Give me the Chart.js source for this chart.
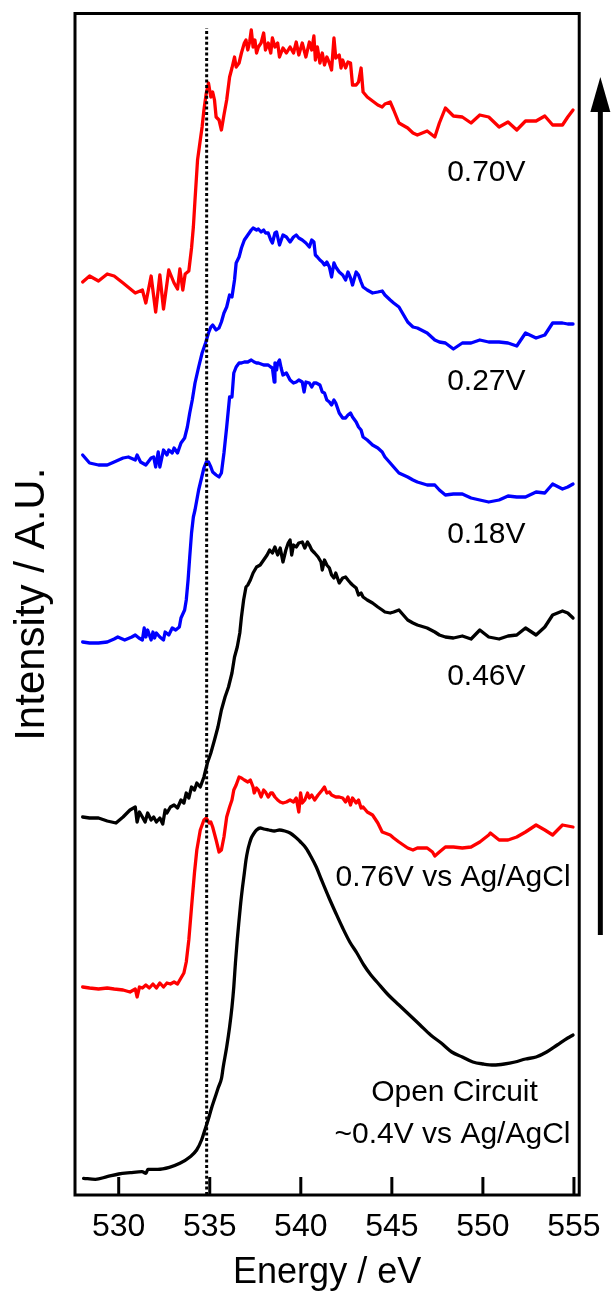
<!DOCTYPE html>
<html><head><meta charset="utf-8">
<script src="https://cdn.jsdelivr.net/npm/chart.js@4.4.1/dist/chart.umd.min.js"></script>
<style>html,body{margin:0;padding:0;background:#fff}</style>
</head><body>
<canvas id="c" width="614" height="1295"></canvas>
<script>
// ---- tick labels ----
const xTicks = [530, 535, 540, 545, 550, 555];

// ---- 0.70V (red, top) ----
const e070 = [528.02,528.40,528.89,529.37,529.75,530.24,530.91,531.30,531.49,531.78,
532.03,532.26,532.46,532.75,533.04,533.23,533.36,533.52,533.65,533.85,
534.00,534.10,534.19,534.33,534.48,534.58,534.68,534.81,534.93,535.06,
535.16,535.26,535.35,535.51,535.64,535.78,535.93,536.09,536.22,536.36,
536.45,536.61,536.74,536.90,536.99,537.09,537.19,537.28,537.38,537.48,
537.57,537.67,537.82,537.96,538.06,538.21,538.35,538.44,538.58,538.73,
538.83,539.02,539.21,539.41,539.60,539.75,539.89,540.08,540.28,540.47,
540.60,540.72,540.80,540.91,541.05,541.18,541.30,541.43,541.57,541.69,
541.82,541.92,542.11,542.21,542.30,542.46,542.59,542.73,542.84,543.04,
543.17,543.31,543.42,543.65,543.94,544.23,544.47,544.62,544.91,545.10,
545.39,545.87,546.16,546.40,546.94,547.36,547.61,547.94,548.38,548.87,
549.35,549.83,550.32,550.89,551.38,551.86,552.34,552.92,553.40,553.83,
554.37,554.66,554.95];
const i070 = [913,919,914,921,919,912,902,905,892,919,
883,920,886,925,912,906,926,905,921,924,
947,968,995,1035,1055,1068,1085,1102,1112,1098,
1103,1095,1078,1075,1065,1080,1095,1118,1127,1138,
1128,1132,1142,1152,1155,1145,1153,1165,1148,1155,
1142,1148,1152,1162,1145,1152,1142,1157,1148,1152,
1138,1147,1142,1148,1142,1153,1140,1152,1138,1153,
1145,1159,1135,1148,1132,1142,1130,1138,1132,1125,
1157,1137,1140,1127,1135,1127,1133,1132,1110,1110,
1113,1127,1103,1098,1094,1090,1088,1091,1093,1085,
1072,1067,1062,1060,1064,1058,1072,1087,1079,1078,
1072,1080,1078,1068,1073,1065,1074,1074,1079,1070,
1070,1078,1085];

// ---- 0.27V (blue, upper) ----
const e027 = [528.02,528.40,528.89,529.37,529.75,530.24,530.53,530.91,531.01,531.20,
531.49,531.78,531.92,532.03,532.17,532.26,532.46,532.65,532.75,532.94,
533.04,533.23,533.42,533.62,533.77,533.90,534.04,534.19,534.39,534.58,
534.77,534.93,535.06,535.16,535.35,535.51,535.64,535.78,535.93,536.09,
536.22,536.36,536.45,536.61,536.74,536.90,537.09,537.28,537.38,537.57,
537.67,537.82,537.96,538.06,538.21,538.35,538.44,538.58,538.67,538.83,
539.02,539.21,539.41,539.60,539.75,539.89,540.08,540.28,540.47,540.60,
540.72,540.80,540.91,541.05,541.18,541.30,541.43,541.57,541.69,541.82,
541.92,542.11,542.30,542.46,542.59,542.73,542.84,543.04,543.17,543.31,
543.42,543.65,543.94,544.23,544.47,544.62,544.91,545.10,545.39,545.87,
546.16,546.40,546.94,547.36,547.61,547.94,548.38,548.87,549.35,549.83,
550.32,550.89,551.38,551.86,552.34,552.92,553.40,553.83,554.37,554.66,
554.95];
const i027 = [740,732,730,730,733,737,738,735,740,733,
730,737,738,728,743,728,745,740,745,742,
747,742,752,757,768,782,795,812,828,842,
852,862,868,870,865,867,873,882,888,900,
898,915,932,938,947,955,960,965,967,965,
966,963,965,962,962,955,952,962,963,950,
960,958,953,958,960,957,955,952,948,955,
953,940,938,935,933,930,933,928,918,932,
928,923,920,915,923,917,910,923,920,913,
908,905,902,903,904,900,895,892,888,873,
868,867,862,855,853,852,846,852,852,855,
853,853,852,849,862,857,860,872,872,871,
871];

// ---- 0.18V (blue, lower) ----
const e018 = [528.02,528.40,528.89,529.37,529.75,529.95,530.33,530.72,530.91,531.11,
531.30,531.40,531.49,531.59,531.78,531.88,531.97,532.07,532.26,532.46,
532.55,532.75,532.94,533.13,533.33,533.42,533.62,533.71,533.81,533.90,
534.00,534.10,534.19,534.39,534.68,534.81,534.93,535.06,535.16,535.35,
535.51,535.64,535.78,535.93,536.09,536.22,536.32,536.45,536.61,536.74,
536.90,537.09,537.28,537.44,537.57,537.67,537.82,537.96,538.06,538.21,
538.35,538.44,538.54,538.58,538.67,538.73,538.83,538.92,539.02,539.21,
539.41,539.60,539.75,539.89,540.08,540.18,540.28,540.47,540.60,540.72,
540.85,541.05,541.18,541.30,541.43,541.57,541.69,541.82,541.92,542.11,
542.30,542.46,542.59,542.73,542.84,543.04,543.17,543.31,543.42,543.65,
543.94,544.23,544.47,544.62,544.91,545.10,545.39,545.87,546.16,546.40,
546.94,547.36,547.61,547.94,548.38,548.87,549.35,549.83,550.32,550.89,
551.38,551.86,552.34,552.92,553.40,553.83,554.37,554.66,554.95];
const i018 = [553,552,552,553,556,558,555,558,560,557,
555,567,558,565,555,563,557,562,558,555,
563,560,567,565,568,577,585,595,615,638,
662,678,685,705,727,733,733,728,723,720,
718,722,742,768,798,798,822,828,832,832,
833,833,835,833,832,832,831,830,830,830,
828,827,813,832,825,832,835,827,820,822,
815,812,813,815,813,803,813,812,808,812,
812,810,803,802,795,793,790,795,792,782,
777,777,780,782,778,773,768,765,758,755,
750,747,743,738,732,728,722,718,715,713,
710,710,705,700,701,701,697,695,693,695,
699,698,698,703,702,711,706,708,711];

// ---- 0.46V (black, middle) ----
const e046 = [528.02,528.40,528.89,529.37,529.85,530.24,530.62,530.91,531.01,531.14,
531.30,531.45,531.59,531.78,531.92,532.07,532.26,532.42,532.55,532.65,
532.84,533.04,533.23,533.42,533.58,533.71,533.85,534.00,534.16,534.29,
534.48,534.68,534.87,535.06,535.26,535.45,535.64,535.84,536.03,536.22,
536.36,536.51,536.65,536.74,536.86,536.99,537.09,537.23,537.38,537.57,
537.77,537.96,538.15,538.29,538.44,538.58,538.73,538.87,539.02,539.18,
539.31,539.41,539.50,539.60,539.75,539.89,540.08,540.22,540.37,540.47,
540.60,540.76,540.95,541.11,541.18,541.30,541.43,541.57,541.69,541.82,
541.92,542.11,542.30,542.46,542.59,542.73,542.84,543.04,543.17,543.31,
543.42,543.65,543.94,544.23,544.47,544.62,544.91,545.10,545.39,545.87,
546.16,546.40,546.94,547.36,547.61,547.94,548.38,548.87,549.35,549.83,
550.32,550.89,551.38,551.86,552.34,552.92,553.40,553.83,554.37,554.66,
554.95];
const i046 = [378,377,377,374,372,378,385,388,373,383,
378,373,382,375,378,373,377,371,385,382,
388,390,387,395,392,402,397,408,405,412,
408,418,432,442,455,468,485,498,508,522,
538,548,562,578,595,608,610,615,622,628,
630,635,640,645,642,648,640,647,633,645,
652,655,640,650,648,652,653,647,653,650,
645,642,638,633,625,635,630,627,620,617,
622,612,617,618,615,612,610,607,600,602,
598,595,592,588,585,583,582,583,585,575,
572,570,567,563,560,558,557,559,556,565,
558,556,559,560,567,560,568,580,584,582,
577];

// ---- 0.76V vs Ag/AgCl (red, lower) ----
const e076 = [528.02,528.40,528.89,529.37,529.75,530.24,530.62,530.91,531.01,531.14,
531.30,531.49,531.68,531.88,532.07,532.26,532.46,532.65,532.84,533.04,
533.23,533.42,533.58,533.71,533.85,534.00,534.16,534.29,534.48,534.68,
534.81,534.97,535.06,535.16,535.35,535.51,535.64,535.78,535.93,536.09,
536.22,536.32,536.45,536.61,536.74,536.90,537.09,537.23,537.38,537.44,
537.57,537.67,537.82,537.96,538.06,538.21,538.35,538.44,538.58,538.73,
538.87,539.02,539.21,539.41,539.60,539.75,539.89,539.99,540.08,540.22,
540.37,540.47,540.60,540.76,540.95,541.18,541.30,541.43,541.57,541.69,
541.92,542.11,542.30,542.46,542.59,542.73,542.84,543.04,543.17,543.31,
543.42,543.65,543.94,544.23,544.47,544.62,544.91,545.10,545.39,545.87,
546.16,546.40,546.94,547.23,547.36,547.61,547.94,548.38,548.87,549.35,
549.83,550.32,550.41,550.89,551.38,551.86,552.34,552.92,553.40,553.83,
554.37,554.66,554.95];
const i076 = [208,207,206,207,206,205,203,206,198,208,
207,210,207,211,207,212,208,212,211,213,
211,217,222,233,255,288,322,345,365,375,
377,372,373,368,355,343,345,358,378,388,
395,405,410,418,417,415,413,415,408,402,
407,405,398,405,403,398,402,402,398,395,
393,392,393,395,393,397,383,402,392,395,
402,397,400,395,400,405,408,402,403,400,
398,398,397,393,398,390,397,392,395,387,
388,383,380,372,363,362,360,357,353,347,
345,347,347,343,339,343,348,348,347,348,
353,360,362,355,355,358,363,370,365,360,
370,369,368];

// ---- Open Circuit ~0.4V vs Ag/AgCl (black, bottom) ----
const eOC = [528.07,528.72,529.36,530.00,530.64,531.28,531.50,531.60,532.14,532.78,
533.36,533.91,534.28,534.55,534.73,534.91,535.10,535.28,535.46,535.65,
535.74,535.93,536.09,536.22,536.32,536.41,536.51,536.61,536.70,536.80,
536.90,536.99,537.09,537.19,537.28,537.44,537.57,537.77,537.96,538.25,
538.54,538.83,539.12,539.41,539.70,539.99,540.28,540.57,540.85,541.14,
541.53,541.92,542.30,542.69,543.08,543.46,543.85,544.23,544.81,545.39,
545.97,546.55,547.13,547.71,548.29,548.87,549.45,550.03,550.60,551.18,
551.76,552.34,552.92,553.50,554.08,554.66,554.95];
const iOC = [16.7,15.7,18.3,21,22.3,23.3,21.7,25.7,25.7,27.7,
31.7,38,45,55,65,75,87,97,107,117,
128,148,168,188,208,232,255,275,292,308,
322,335,345,352,357,362,365,367,366,365,
364,365,364,362,358,353,347,338,328,315,
298,282,267,253,242,230,220,212,200,190,
180,170,160,152,143,138,133,131,130,131,
133,136,138,143,150,157,160];

// ---- dotted reference line at the edge ----
const eEdge = [534.83, 534.83];
const iEdge = [0, 1167];

// ---- curve labels ----
const curveLabels = ['0.70V', '0.27V', '0.18V', '0.46V', '0.76V vs Ag/AgCl', 'Open Circuit', '~0.4V vs Ag/AgCl'];

const FONT = '"Liberation Sans", Arial, Helvetica, sans-serif';
const pts = (e, v) => e.map((x, k) => ({x: x, y: v[k]}));
const line = (e, v, color, extra) => Object.assign({
  data: pts(e, v), showLine: true, borderColor: color, backgroundColor: color,
  borderWidth: 3.3, pointRadius: 0, fill: false, tension: 0,
  borderJoinStyle: 'round', borderCapStyle: 'round'
}, extra || {});

const deco = {
  id: 'deco',
  afterDraw(chart, args, opts) {
    const {ctx, chartArea: a, scales: {x, y}} = chart;
    ctx.save();
    ctx.strokeStyle = '#000';
    ctx.lineWidth = 3;
    ctx.strokeRect(a.left, a.top, a.right - a.left, a.bottom - a.top);
    // inward tick marks
    xTicks.forEach(v => {
      const px = x.getPixelForValue(v);
      ctx.beginPath(); ctx.moveTo(px, a.bottom); ctx.lineTo(px, a.bottom - 18); ctx.stroke();
    });
    // curve labels
    ctx.fillStyle = '#000';
    ctx.font = '30px ' + FONT;
    ctx.textAlign = 'center';
    ctx.textBaseline = 'middle';
    curveLabels.forEach((t, k) => {
      const p = opts.labelPos[k];
      ctx.fillText(t, x.getPixelForValue(p[0]), y.getPixelForValue(p[1]));
    });
    // arrow
    const ar = opts.arrow;
    const ax = x.getPixelForValue(ar.e);
    const yTip = y.getPixelForValue(ar.tip), yBase = y.getPixelForValue(ar.base), yEnd = y.getPixelForValue(ar.end);
    ctx.lineWidth = 5; ctx.lineCap = 'butt';
    ctx.beginPath(); ctx.moveTo(ax, yEnd); ctx.lineTo(ax, yBase); ctx.stroke();
    ctx.beginPath(); ctx.moveTo(ax, yTip); ctx.lineTo(ax - 10, yBase); ctx.lineTo(ax + 10, yBase); ctx.closePath(); ctx.fill();
    ctx.restore();
  }
};

new Chart(document.getElementById('c'), {
  type: 'scatter',
  data: {
    datasets: [
      line(eEdge, iEdge, '#000', {borderWidth: 3, borderDash: [3, 2.4], borderCapStyle: 'butt'}),
      line(e070, i070, '#ff0000'),
      line(e027, i027, '#0000ff'),
      line(e018, i018, '#0000ff'),
      line(e046, i046, '#000000'),
      line(e076, i076, '#ff0000'),
      line(eOC, iOC, '#000000', {cubicInterpolationMode: 'monotone'})
    ]
  },
  options: {
    responsive: false, animation: false, devicePixelRatio: 1,
    layout: {padding: {left: 0, right: 34.3, top: 13.5, bottom: 0}},
    plugins: {
      legend: {display: false}, tooltip: {enabled: false},
      deco: {
        labelPos: [[550.19, 1022], [550.19, 813], [550.19, 660], [550.19, 518], [548.36, 317], [548.44, 102], [548.33, 60]],
        arrow: {e: 556.45, tip: 1118, base: 1083, end: 260}
      }
    },
    scales: {
      x: {
        type: 'linear', position: 'bottom', min: 527.60, max: 555.29,
        afterFit(s) { s.height = 100; },
        afterBuildTicks(s) { s.ticks = xTicks.map(v => ({value: v})); },
        grid: {display: false, drawTicks: false}, border: {display: false},
        ticks: {color: '#000', font: {family: FONT, size: 32}, padding: 13, maxRotation: 0, autoSkip: false},
        title: {display: true, text: 'Energy / eV', color: '#000', font: {family: FONT, size: 36}, padding: {top: 0, bottom: 0}}
      },
      y: {
        type: 'linear', min: 0, max: 1181.5,
        afterFit(s) { s.width = 75; },
        grid: {display: false, drawTicks: false}, border: {display: false},
        ticks: {display: false},
        title: {display: true, text: 'Intensity / A.U.', color: '#000', font: {family: FONT, size: 42}, padding: {top: 7, bottom: 0}}
      }
    }
  },
  plugins: [deco]
});
</script>
</body></html>
